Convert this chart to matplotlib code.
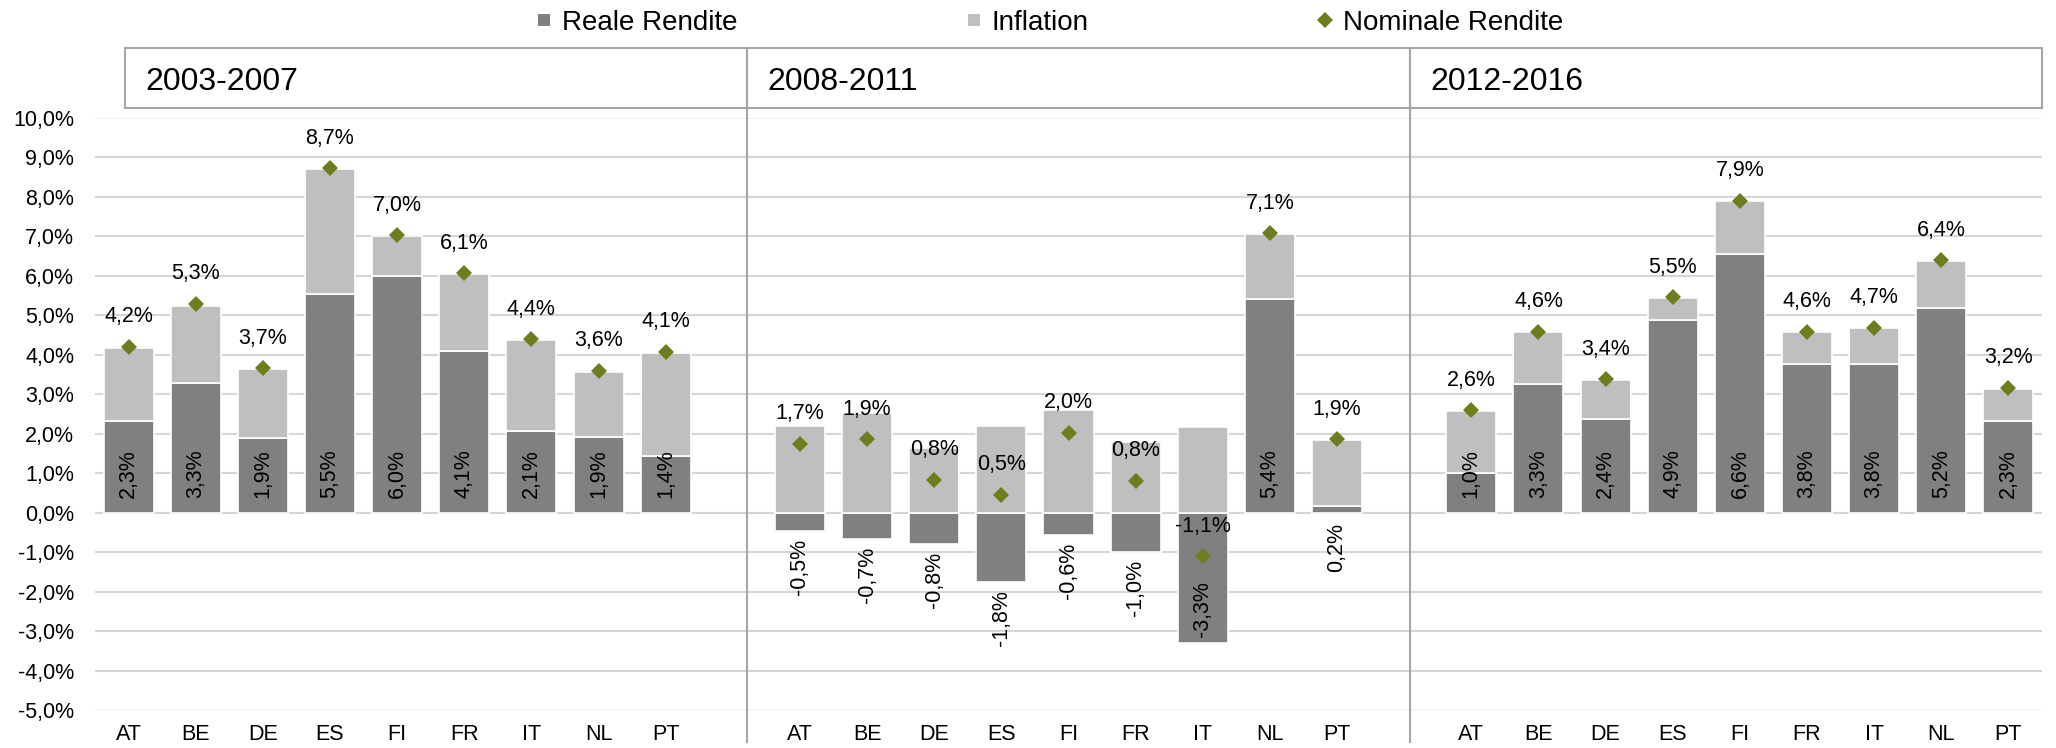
import numpy as np
import matplotlib
matplotlib.use("Agg")
import matplotlib.pyplot as plt
from matplotlib.lines import Line2D
from matplotlib.patches import Rectangle

plt.rcParams['font.family'] = ['Liberation Sans', 'DejaVu Sans']

# Data (percent)
countries = ['AT', 'BE', 'DE', 'ES', 'FI', 'FR', 'IT', 'NL', 'PT']
periods = ['2003-2007', '2008-2011', '2012-2016']

real_0307 = [2.33, 3.28, 1.89, 5.53, 6.00, 4.10, 2.08, 1.91, 1.44]
infl_0307 = [1.85, 1.96, 1.74, 3.18, 1.00, 1.95, 2.30, 1.66, 2.61]
nom_0307 = [4.21, 5.29, 3.66, 8.73, 7.03, 6.07, 4.39, 3.60, 4.08]

real_0811 = [-0.46, -0.67, -0.80, -1.76, -0.57, -1.00, -3.29, 5.41, 0.16]
infl_0811 = [2.20, 2.53, 1.63, 2.20, 2.60, 1.80, 2.18, 1.64, 1.68]
nom_0811 = [1.74, 1.86, 0.83, 0.46, 2.03, 0.81, -1.11, 7.08, 1.86]

real_1216 = [1.00, 3.26, 2.37, 4.88, 6.56, 3.76, 3.76, 5.18, 2.33]
infl_1216 = [1.58, 1.31, 0.99, 0.55, 1.34, 0.81, 0.91, 1.20, 0.80]
nom_1216 = [2.60, 4.59, 3.38, 5.46, 7.90, 4.59, 4.69, 6.40, 3.16]

real_all = [real_0307, real_0811, real_1216]
infl_all = [infl_0307, infl_0811, infl_1216]
nom_all = [nom_0307, nom_0811, nom_1216]

DARK = '#808080'
LIGHT = '#BFBFBF'
OLIVE = '#6E7E1E'
FRAME = '#A6A6A6'

W, H = 2056, 748


def fx(px):
    return px / W


def fy(py):
    return 1 - py / H


def pct(v):
    return f"{v:.1f}%".replace('.', ',')


fig = plt.figure(figsize=(W / 100, H / 100), dpi=100)
ax = fig.add_axes([fx(95), fy(710), fx(2042) - fx(95), fy(118) - fy(710)])

# gridlines
for v in range(-5, 11):
    c = '#EFEFEF' if v in (-5, 10) else '#D6D6D6'
    ax.axhline(v, color=c, lw=1.5, zorder=0.5)

xticks = []
for p in range(3):
    xs = np.arange(len(countries)) + p * 10
    xticks.extend(xs)
    real = np.array(real_all[p])
    infl = np.array(infl_all[p])
    nom = np.array(nom_all[p])
    ax.bar(xs, real, width=0.745, color=DARK, edgecolor='white', linewidth=1.2, zorder=2)
    ax.bar(xs, infl, bottom=np.maximum(real, 0), width=0.745, color=LIGHT,
           edgecolor='white', linewidth=1.2, zorder=2)
    ax.plot(xs, nom, ls='none', marker='D', ms=8.5, color=OLIVE, mew=0, zorder=4)

    for x, r, n in zip(xs, real, nom):
        ax.annotate(pct(n), (x, n), xytext=(0, 21.6), textcoords='offset points',
                    ha='center', va='center', fontsize=15.5, zorder=5)
        if r >= 0.5:
            anchor, off, va = 0, 10.8, 'bottom'
        elif r >= 0:
            anchor, off, va = 0, -7.4, 'top'
        elif r > -3:
            anchor, off, va = r, -5.8, 'top'
        else:
            anchor, off, va = r, 4.3, 'bottom'
        ax.annotate(pct(r), (x, anchor), xytext=(0, off), textcoords='offset points',
                    ha='center', va=va, rotation=90, fontsize=15.5, zorder=5)

ax.set_xlim(-0.5, 28.5)
ax.set_ylim(-5, 10)
ax.set_yticks(range(-5, 11))
ax.set_yticklabels([pct(v) for v in range(-5, 11)])
ax.set_xticks(xticks)
ax.set_xticklabels(countries * 3)
ax.tick_params(axis='y', length=0, labelsize=15.5, pad=15)
ax.tick_params(axis='x', length=0, labelsize=15.5, pad=10)
for s in ax.spines.values():
    s.set_visible(False)

# period boxes and separators
boxes = [(125, 747), (747, 1410), (1410, 2042)]
for (l, r), title in zip(boxes, periods):
    fig.add_artist(Rectangle((fx(l), fy(108)), fx(r) - fx(l), fy(48) - fy(108),
                             transform=fig.transFigure, facecolor='white',
                             edgecolor=FRAME, lw=1.5))
    fig.text(fx(l + 20), fy(90), title, fontsize=23, ha='left', va='baseline')
for xp in (747, 1410):
    fig.add_artist(Line2D([fx(xp), fx(xp)], [fy(48), fy(742)], color=FRAME, lw=1.5))

handles = [
    Line2D([], [], ls='none', marker='s', ms=8, color=DARK, mew=0, label='Reale Rendite'),
    Line2D([], [], ls='none', marker='s', ms=8, color=LIGHT, mew=0, label='Inflation'),
    Line2D([], [], ls='none', marker='D', ms=8, color=OLIVE, mew=0, label='Nominale Rendite'),
]
fig.legend(handles=handles, loc='center', bbox_to_anchor=(fx(1050), fy(23)), ncol=3,
           frameon=False, fontsize=20, handlelength=0.5, handletextpad=0.4,
           columnspacing=8.25, borderaxespad=0, borderpad=0)

fig.savefig('out.png', dpi=100)
